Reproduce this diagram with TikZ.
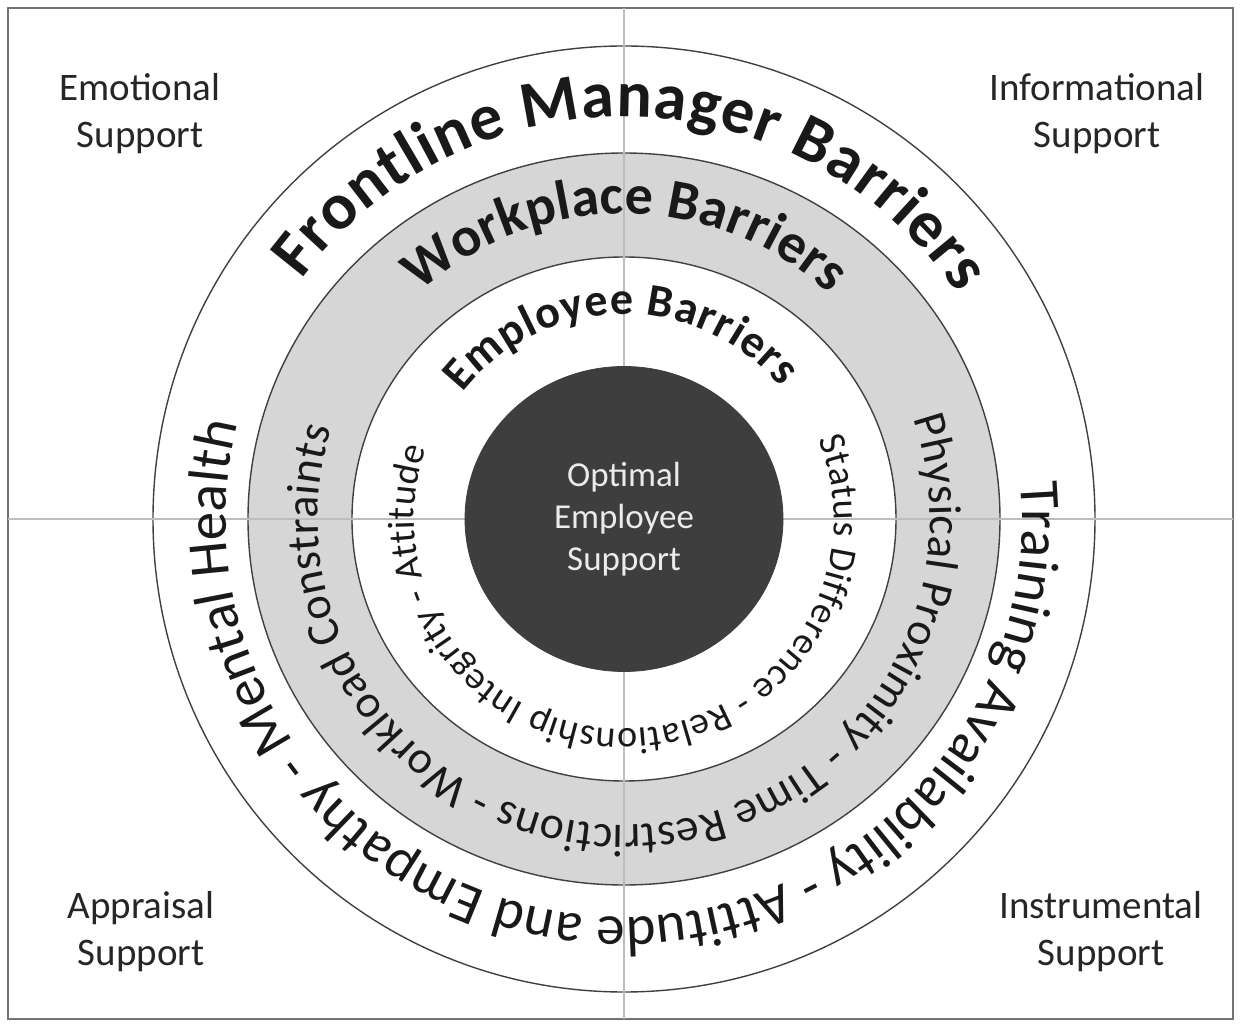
\documentclass[tikz,border=0pt]{standalone}
\usepackage{fontspec}
\setmainfont{Carlito}
\usetikzlibrary{decorations.text, shapes.geometric}
\definecolor{ringgray}{HTML}{D6D6D6}
\definecolor{coregray}{HTML}{3E3E3E}
\definecolor{crossgray}{HTML}{BDBDBD}
\tikzset{
x=0.5pt, y=0.5pt, % one unit is one pixel of the figure
frame/.style={draw=black!55, line width=1pt},
ring/.style={draw=black!75, line width=0.7pt}, % outlines of the three rings
cross/.style={draw=crossgray, line width=0.8pt},
core/.style={ellipse, fill=coregray, draw=coregray, minimum width=159pt, minimum height=152.5pt, inner sep=0pt, align=center, text=black!8, font=\fontsize{17.5}{21}\selectfont},
corner/.style={align=center, text=black!85, font=\fontsize{19.5}{23.5}\selectfont},
}
% text set along a clockwise arc: font, text, start angle, end angle, radius
\newcommand{\arctext}[5]{%
  \path[decorate, decoration={text along path, text align={fit to path}, text color=black!90, text={|#1|#2}}]
    (#3:#5) arc[start angle=#3, end angle=#4, radius=#5];}

\begin{document}
\begin{tikzpicture}
  \useasboundingbox (-624,-507) rectangle (617,519);
  \draw[frame] (-616,511) rectangle (609,-500);
  % the rings
  \draw[ring] (0,0) ellipse[x radius=471, y radius=473];
  \draw[ring, fill=ringgray] (0,0) ellipse[x radius=376, y radius=366];
  \draw[ring, fill=white] (0,0) ellipse[x radius=272, y radius=262];
  \draw[cross] (0,511) -- (0,-500);
  \draw[cross] (-616,0) -- (609,0);
  \node[core] (core) at (0,0) {Optimal\\Employee\\Support};
  % kinds of support
  \node[corner] (emotional) at (-484,405) {Emotional\\Support};
  \node[corner] (informational) at (473,405) {Informational\\Support};
  \node[corner] (appraisal) at (-483,-413) {Appraisal\\Support};
  \node[corner] (instrumental) at (477,-413) {Instrumental\\Support};
  % barriers
  \arctext{\fontsize{33}{33}\selectfont\bfseries}{Frontline Manager Barriers}{143.4}{34}{402}
  \arctext{\fontsize{28}{28}\selectfont\bfseries}{Workplace Barriers}{132}{47.6}{305}
  \arctext{\fontsize{23}{23}\selectfont\bfseries}{Employee Barriers}{142}{40}{205}
  \arctext{\fontsize{28.5}{28.5}\selectfont}{Training Availability - Attitude and Empathy - Mental Health}{5.3}{-192.2}{398}
  \arctext{\fontsize{23}{23}\selectfont}{Physical Proximity - Time Restrictions - Workload Constraints}{19.1}{-197.2}{306}
  \arctext{\fontsize{19}{19}\selectfont}{Status Difference - Relationship Integrity - Attitude}{22.3}{-199.7}{210}
\end{tikzpicture}
\end{document}
